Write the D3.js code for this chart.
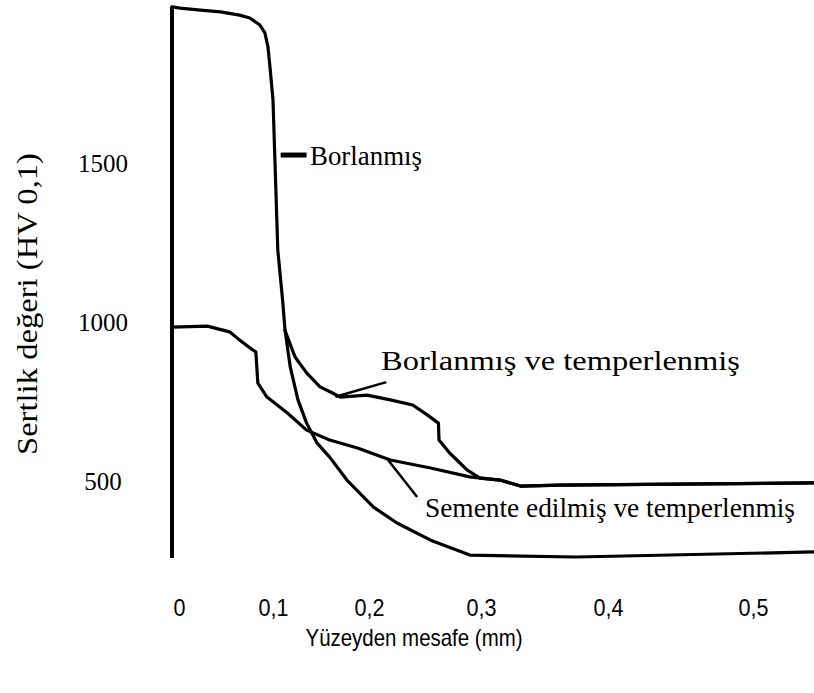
<!DOCTYPE html>
<html>
<head>
<meta charset="utf-8">
<script src="https://cdn.jsdelivr.net/npm/d3@7"></script>
<style>
  body { margin: 0; background: #fff; }
  svg { display: block; }
</style>
</head>
<body>
<div id="chart"></div>
<script>
// tick values and labels
const xTicks = [0, 0.1, 0.2, 0.3, 0.4, 0.5];
const xTickLabels = ['0', '0,1', '0,2', '0,3', '0,4', '0,5'];
const yTicks = [500, 1000, 1500];

// series: [distance mm, hardness HV 0,1]
const borlanmis = [
    [0, 1991], [0.008, 1987], [0.028, 1981], [0.048, 1975], [0.067, 1965], [0.077, 1956],
    [0.087, 1934], [0.092, 1909], [0.095, 1865], [0.097, 1802], [0.1, 1698], [0.102, 1509],
    [0.105, 1226], [0.110, 1069], [0.1125, 975], [0.118, 858], [0.126, 755], [0.135, 682],
    [0.146, 619], [0.159, 575], [0.177, 503], [0.204, 418], [0.225, 368], [0.255, 314],
    [0.290, 267], [0.375, 261], [0.542, 277]
];
const borlanmisTemper = [
    [0.1125, 975], [0.115, 953], [0.123, 890], [0.135, 840], [0.149, 796], [0.1625, 776],
    [0.170, 764], [0.198, 770], [0.219, 755], [0.239, 739], [0.252, 708], [0.262, 682],
    [0.2625, 629], [0.272, 588], [0.2875, 535], [0.299, 509], [0.315, 503], [0.331, 484],
    [0.362, 487], [0.542, 494]
];
const sementeTemper = [
    [0, 984], [0.035, 987], [0.057, 969], [0.067, 943], [0.080, 912], [0.083, 906],
    [0.085, 808], [0.094, 764], [0.115, 714], [0.135, 660], [0.159, 629], [0.188, 604],
    [0.219, 566], [0.255, 541], [0.290, 513], [0.315, 503], [0.331, 484], [0.362, 487],
    [0.542, 494]
];

// leader lines from labels to curves
const leaderBorlanmis = [[0.108, 1525], [0.135, 1525]];
const leaderBorlanmisTemper = [[0.165, 765], [0.2155, 811]];
const leaderSemente = [[0.217, 566], [0.243, 450]];

const yAxisExtent = [258, 1991];

const width = 814, height = 693;

const svg = d3.select('#chart')
    .append('svg')
    .attr('width', width)
    .attr('height', height);

// the source figure has uneven tick spacing, so a polylinear scale
const x = d3.scaleLinear()
    .domain(xTicks)
    .range([172, 273, 369, 481, 608, 753]);

const y = d3.scaleLinear()
    .domain([500, 1500])
    .range([481, 163]);

const line = d3.line()
    .x(function (d) { return x(d[0]); })
    .y(function (d) { return y(d[1]); });

// vertical axis line
svg.append('line')
    .attr('x1', x(0))
    .attr('x2', x(0))
    .attr('y1', y(yAxisExtent[0]))
    .attr('y2', y(yAxisExtent[1]))
    .attr('stroke', '#000')
    .attr('stroke-width', 4);

// y tick labels
const yAxis = svg.append('g')
    .attr('transform', 'translate(103,0)')
    .call(d3.axisLeft(y).tickValues(yTicks).tickFormat(d3.format('d')).tickSize(0).tickPadding(0));
yAxis.select('.domain').remove();
yAxis.selectAll('text')
    .attr('text-anchor', 'middle')
    .attr('dy', '0.34em')
    .style('font-family', '"Liberation Serif", "Times New Roman", serif')
    .style('font-size', '25px')
    .attr('fill', '#000');

// x tick labels
const xAxis = svg.append('g')
    .attr('transform', 'translate(0,599)')
    .call(d3.axisBottom(x).tickValues(xTicks)
        .tickFormat(function (d, i) { return xTickLabels[i]; })
        .tickSize(0).tickPadding(0));
xAxis.select('.domain').remove();
xAxis.selectAll('text')
    .attr('dy', '0.71em')
    .attr('dx', function (d) { return d === 0 ? 7 : 0; })
    .style('font-family', '"Liberation Sans", Arial, sans-serif')
    .style('font-size', '24px')
    .attr('fill', '#000')
    .attr('textLength', function (d) { return d === 0 ? 12 : 30; })
    .attr('lengthAdjust', 'spacingAndGlyphs');

// axis titles
svg.append('text')
    .attr('x', 414)
    .attr('y', 646)
    .attr('text-anchor', 'middle')
    .style('font-family', '"Liberation Sans", Arial, sans-serif')
    .style('font-size', '24px')
    .attr('textLength', 217)
    .attr('lengthAdjust', 'spacingAndGlyphs')
    .text('Yüzeyden mesafe (mm)');

svg.append('text')
    .attr('transform', 'translate(37,304) rotate(-90)')
    .attr('text-anchor', 'middle')
    .style('font-family', '"Liberation Serif", "Times New Roman", serif')
    .style('font-size', '30px')
    .attr('textLength', 302)
    .attr('lengthAdjust', 'spacingAndGlyphs')
    .text('Sertlik değeri (HV 0,1)');

// curves
const series = [borlanmis, borlanmisTemper, sementeTemper];
svg.append('g')
    .selectAll('path')
    .data(series)
    .enter()
    .append('path')
    .attr('d', line)
    .attr('fill', 'none')
    .attr('stroke', '#000')
    .attr('stroke-width', 3.2)
    .attr('stroke-linejoin', 'round')
    .attr('stroke-linecap', 'round');

// leaders
svg.append('path')
    .attr('d', line(leaderBorlanmis))
    .attr('stroke', '#000')
    .attr('stroke-width', 5);
svg.append('g')
    .selectAll('path')
    .data([leaderBorlanmisTemper, leaderSemente])
    .enter()
    .append('path')
    .attr('d', line)
    .attr('fill', 'none')
    .attr('stroke', '#000')
    .attr('stroke-width', 2.5);

// curve labels
const labels = [
    {text: 'Borlanmış', x: 310, y: 165, len: 112},
    {text: 'Borlanmış ve temperlenmiş', x: 381, y: 370, len: 359},
    {text: 'Semente edilmiş ve temperlenmiş', x: 425, y: 517, len: 370}
];
svg.append('g')
    .selectAll('text')
    .data(labels)
    .enter()
    .append('text')
    .attr('x', function (d) { return d.x; })
    .attr('y', function (d) { return d.y; })
    .style('font-family', '"Liberation Serif", "Times New Roman", serif')
    .style('font-size', '27px')
    .attr('textLength', function (d) { return d.len; })
    .attr('lengthAdjust', 'spacingAndGlyphs')
    .text(function (d) { return d.text; });
</script>
</body>
</html>
